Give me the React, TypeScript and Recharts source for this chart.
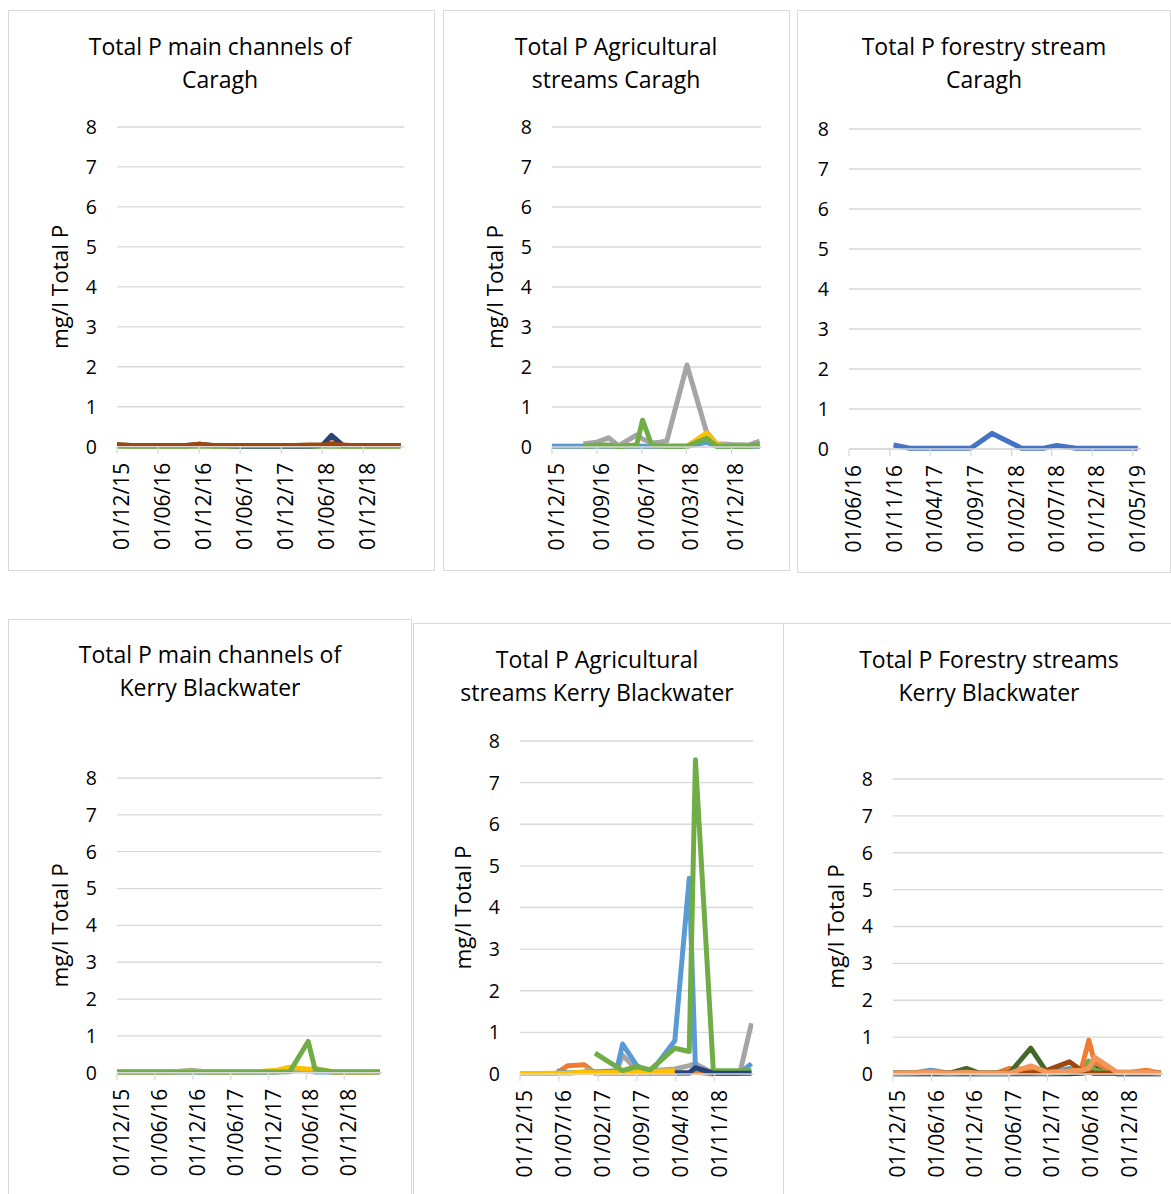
import React from "react";
import { LineChart, Line, XAxis, YAxis, CartesianGrid } from "recharts";

const FONT = '"Open Sans", "Noto Sans", sans-serif';
const GRID = "#d9d9d9";

// Excel default palette
const BLUE = "#5B9BD5";
const ORANGE = "#ED7D31";
const GRAY = "#A5A5A5";
const YELLOW = "#FFC000";
const ROYAL = "#4472C4";
const GREEN = "#70AD47";
const NAVY = "#264478";
const BROWN = "#9E480E";
const DKGREEN = "#43682B";
const LTORANGE = "#F1975A";

const yTicks = [0, 1, 2, 3, 4, 5, 6, 7, 8];

// ---- Total P main channels of Caragh
const cmTicks = ["01/12/15", "01/06/16", "01/12/16", "01/06/17", "01/12/17", "01/06/18", "01/12/18"];
const cmDates = ["01/12/15", "01/02/16", "01/04/16", "01/06/16", "01/08/16", "01/10/16", "01/12/16", "01/02/17", "01/04/17", "01/06/17", "01/08/17", "01/10/17", "01/12/17", "01/02/18", "01/04/18", "01/06/18", "12/07/18", "01/09/18", "01/10/18", "01/12/18", "01/02/19", "01/04/19", "15/05/19"];
const cmOrange = [0.03, 0.02, 0.02, 0.02, 0.02, 0.02, 0.04, 0.02, 0.02, 0.02, 0.02, 0.02, 0.02, 0.02, 0.02, 0.03, 0.1, 0.03, 0.02, 0.02, 0.02, 0.02, 0.02];
const cmGray = [0.04, 0.02, 0.02, 0.02, 0.02, 0.02, 0.07, 0.02, 0.02, 0.02, 0.02, 0.02, 0.02, 0.02, 0.03, 0.03, 0.05, 0.02, 0.02, 0.02, 0.02, 0.02, 0.02];
const cmGreen = [0.01, 0.01, 0.01, 0.01, 0.01, 0.01, 0.01, 0.01, 0.01, 0.01, 0.01, 0.01, 0.01, 0.01, 0.01, 0.01, 0.02, 0.01, 0.01, 0.01, 0.01, 0.01, 0.02];
const cmNavy = [0.04, 0.03, 0.03, 0.03, 0.03, 0.03, 0.05, 0.03, 0.03, 0.02, 0.02, 0.02, 0.02, 0.02, 0.02, 0.03, 0.28, 0.03, 0.03, 0.03, 0.03, 0.03, 0.03];
const cmBrown = [0.05, 0.03, 0.03, 0.03, 0.03, 0.03, 0.06, 0.03, 0.03, 0.03, 0.03, 0.03, 0.03, 0.03, 0.04, 0.04, 0.06, 0.04, 0.03, 0.03, 0.03, 0.03, 0.03];

// ---- Total P Agricultural streams Caragh
const caTicks = ["01/12/15", "01/09/16", "01/06/17", "01/03/18", "01/12/18"];
const caDates = ["01/12/15", "01/03/16", "10/06/16", "01/09/16", "10/11/16", "10/01/17", "01/05/17", "06/06/17", "01/08/17", "19/09/17", "01/11/17", "04/03/18", "01/07/18", "01/09/18", "01/12/18", "15/03/19", "22/05/19"];
const caGray = [null, null, 0.08, 0.12, 0.23, 0.03, 0.3, 0.2, 0.1, 0.12, 0.15, 2.05, 0.38, 0.08, 0.06, 0.05, 0.15];
const caYellow = [0.02, 0.02, 0.02, 0.02, 0.02, 0.02, 0.02, 0.02, 0.02, 0.02, 0.02, 0.02, 0.35, 0.06, 0.02, 0.02, 0.02];
const caBlue = [0.02, 0.02, 0.02, 0.02, 0.02, 0.02, 0.02, 0.02, 0.02, 0.02, 0.02, 0.02, 0.12, 0.02, 0.02, 0.02, 0.02];
const caGreen = [null, null, 0.02, 0.05, 0.05, 0.01, 0.05, 0.67, 0.05, 0.03, 0.02, 0.02, 0.22, 0.02, 0.02, 0.02, 0.06];

// ---- Total P forestry stream Caragh
const cfTicks = ["01/06/16", "01/11/16", "01/04/17", "01/09/17", "01/02/18", "01/07/18", "01/12/18", "01/05/19"];
const cfDates = ["15/11/16", "15/01/17", "01/04/17", "01/07/17", "01/09/17", "20/11/17", "10/03/18", "01/06/18", "20/07/18", "01/10/18", "01/01/19", "01/04/19", "20/05/19"];
const cfRoyal = [0.1, 0.02, 0.02, 0.02, 0.02, 0.39, 0.02, 0.02, 0.09, 0.02, 0.02, 0.02, 0.02];

// ---- Total P main channels of Kerry Blackwater
const kmTicks = ["01/12/15", "01/06/16", "01/12/16", "01/06/17", "01/12/17", "01/06/18", "01/12/18"];
const kmDates = ["01/12/15", "01/03/16", "01/06/16", "01/09/16", "20/11/16", "01/02/17", "01/05/17", "01/08/17", "01/11/17", "01/01/18", "13/03/18", "10/06/18", "13/07/18", "10/10/18", "01/01/19", "01/04/19", "22/05/19"];
const kmBlue = [0.02, 0.02, 0.02, 0.02, 0.02, 0.02, 0.02, 0.02, 0.02, 0.02, 0.05, 0.08, 0.02, 0.02, 0.02, 0.02, 0.02];
const kmGray = [0.02, 0.02, 0.02, 0.03, 0.07, 0.03, 0.02, 0.02, 0.03, 0.05, 0.1, 0.05, 0.05, 0.02, 0.02, 0.02, 0.02];
const kmYellow = [0.03, 0.03, 0.03, 0.03, 0.04, 0.03, 0.03, 0.03, 0.04, 0.06, 0.15, 0.1, 0.12, 0.02, 0.02, 0.02, 0.03];
const kmGreen = [0.02, 0.02, 0.02, 0.02, 0.02, 0.02, 0.02, 0.02, 0.02, 0.02, 0.03, 0.85, 0.1, 0.02, 0.02, 0.02, 0.03];

// ---- Total P Agricultural streams Kerry Blackwater
const kaTicks = ["01/12/15", "01/07/16", "01/02/17", "01/09/17", "01/04/18", "01/11/18"];
const kaDates = ["01/12/15", "01/03/16", "19/06/16", "19/08/16", "19/11/16", "15/01/17", "13/05/17", "15/06/17", "01/09/17", "13/11/17", "28/03/18", "15/06/18", "19/07/18", "25/10/18", "01/01/19", "19/03/19", "22/05/19"];
const kaOrange = [0.01, 0.01, 0.02, 0.2, 0.22, 0.02, 0.02, 0.02, 0.02, 0.02, 0.02, 0.02, 0.05, 0.0, null, null, null];
const kaGray = [null, null, null, null, 0.12, 0.05, 0.06, 0.45, 0.1, 0.08, 0.12, 0.2, 0.25, 0.02, 0.02, 0.02, 1.22];
const kaBlue = [null, null, 0.07, 0.03, 0.04, 0.05, 0.08, 0.72, 0.2, 0.02, 0.8, 4.7, 0.15, 0.02, 0.02, 0.02, 0.25];
const kaYellow = [0.01, 0.01, 0.02, 0.02, 0.05, 0.03, 0.04, 0.05, 0.05, 0.06, 0.08, null, null, null, null, null, null];
const kaGreen = [null, null, null, null, null, 0.5, null, 0.08, 0.18, 0.1, 0.62, 0.54, 7.55, 0.08, 0.08, 0.08, 0.08];
const kaNavy = [null, null, null, null, null, null, null, null, null, null, 0.03, 0.03, 0.15, 0.02, 0.02, 0.02, 0.02];

// ---- Total P Forestry streams Kerry Blackwater
const kfTicks = ["01/12/15", "01/06/16", "01/12/16", "01/06/17", "01/12/17", "01/06/18", "01/12/18"];
const kfDates = ["01/12/15", "01/03/16", "28/05/16", "25/08/16", "13/11/16", "15/01/17", "01/04/17", "04/06/17", "13/09/17", "28/11/17", "15/03/18", "10/05/18", "15/06/18", "13/07/18", "25/10/18", "01/01/19", "13/03/19", "22/05/19"];
const kfRoyal = [0.01, 0.01, 0.01, 0.01, 0.01, 0.01, 0.01, 0.01, 0.12, 0.01, 0.05, 0.05, 0.05, 0.2, 0.01, 0.01, 0.01, 0.01];
const kfBlue = [0.02, 0.02, 0.1, 0.02, 0.02, 0.02, 0.02, 0.02, 0.15, 0.02, 0.15, 0.05, 0.1, 0.3, 0.02, 0.02, 0.02, 0.02];
const kfNavy = [0.01, 0.01, 0.01, 0.01, 0.01, 0.01, 0.01, 0.01, 0.01, 0.01, 0.01, 0.02, 0.05, 0.25, 0.01, 0.01, 0.01, 0.01];
const kfGreen = [0.02, 0.02, 0.02, 0.02, 0.02, 0.02, 0.02, 0.02, 0.02, 0.02, 0.05, 0.15, 0.35, 0.1, 0.02, 0.02, 0.02, 0.02];
const kfOrange = [0.02, 0.02, 0.05, 0.02, 0.02, 0.02, 0.02, 0.15, 0.12, 0.05, 0.08, 0.12, 0.92, 0.3, 0.05, 0.05, 0.1, 0.02];
const kfDkGreen = [0.02, 0.02, 0.02, 0.02, 0.15, 0.02, 0.02, 0.02, 0.7, 0.05, 0.08, 0.05, 0.05, 0.02, 0.02, 0.02, 0.02, 0.02];
const kfBrown = [0.02, 0.02, 0.02, 0.02, 0.02, 0.02, 0.02, 0.02, 0.02, 0.1, 0.33, 0.1, 0.05, 0.02, 0.02, 0.02, 0.02, 0.02];
const kfLtOrange = [0.02, 0.03, 0.05, 0.02, 0.05, 0.02, 0.02, 0.02, 0.22, 0.05, 0.08, 0.1, 0.15, 0.45, 0.05, 0.05, 0.05, 0.02];

function toTime(d: string) {
  const [dd, mm, yy] = d.split("/").map(Number);
  return Date.UTC(2000 + yy, mm - 1, dd);
}

function fmtDate(t: number) {
  const d = new Date(t);
  const p = (n: number) => String(n).padStart(2, "0");
  return `${p(d.getUTCDate())}/${p(d.getUTCMonth() + 1)}/${p(d.getUTCFullYear() % 100)}`;
}

function buildRows(dates: string[], series: { values: (number | null)[] }[]) {
  return dates.map((d, i) => {
    const row: any = { t: toTime(d) };
    series.forEach((s, k) => (row["s" + k] = s.values[i]));
    return row;
  });
}

function DateTick(props: any) {
  const { x, y, payload } = props;
  const tx = x + 4;
  const ty = y + 9;
  return (
    <text
      x={tx}
      y={ty}
      transform={`rotate(-90, ${tx}, ${ty})`}
      textAnchor="end"
      dominantBaseline="central"
      fontSize={21}
      fontFamily={FONT}
      fill="#000"
    >
      {fmtDate(payload.value)}
    </text>
  );
}

const YW = 112;
const MT = 22;
const MR = 24;
const XH = 130;

function Panel({ box, title, titleX, titleBase, plot, start, end, ticks, dates, series, yLabel }: any) {
  const rows = buildRows(dates, series);
  const w = plot.right - plot.left + YW + MR;
  const h = MT + (plot.bottom - plot.top) + XH;
  return (
    <>
      <div
        style={{
          position: "absolute",
          left: box.left,
          top: box.top,
          width: box.width,
          height: box.height,
          border: `1.5px solid ${GRID}`,
          boxSizing: "border-box",
        }}
      />
      <div
        style={{
          position: "absolute",
          left: titleX - 200,
          top: titleBase - 25.4,
          width: 400,
          textAlign: "center",
          fontFamily: FONT,
          fontSize: 23,
          lineHeight: "33px",
          color: "#000",
        }}
      >
        {title.map((t: string) => (
          <div key={t}>{t}</div>
        ))}
      </div>
      <div style={{ position: "absolute", left: plot.left - YW, top: plot.top - MT }}>
        <LineChart width={w} height={h} data={rows} margin={{ top: MT, right: MR, left: 0, bottom: 0 }}>
          <CartesianGrid vertical={false} stroke={GRID} strokeWidth={1.3} />
          <XAxis
            dataKey="t"
            type="number"
            domain={[toTime(start), toTime(end)]}
            ticks={ticks.map(toTime)}
            interval={0}
            height={XH}
            axisLine={{ stroke: GRID, strokeWidth: 1.5 }}
            tickLine={{ stroke: GRID, strokeWidth: 1.3 }}
            tickSize={7}
            tickMargin={0}
            tick={<DateTick />}
            allowDataOverflow
          />
          <YAxis
            type="number"
            domain={[0, 8]}
            ticks={yTicks}
            interval={0}
            width={YW}
            axisLine={false}
            tickLine={false}
            tickSize={0}
            tickMargin={20}
            tick={{ fontSize: 19.5, fill: "#000", fontFamily: FONT }}
            label={
              yLabel
                ? {
                    value: "mg/l Total P",
                    angle: -90,
                    position: "center",
                    dx: -1,
                    style: { fontSize: 22.5, fill: "#000", fontFamily: FONT },
                  }
                : undefined
            }
          />
          {series.map((s: any, k: number) => (
            <Line
              key={k}
              type="linear"
              dataKey={"s" + k}
              stroke={s.color}
              strokeWidth={5}
              strokeLinejoin="round"
              dot={false}
              activeDot={false}
              connectNulls
              isAnimationActive={false}
            />
          ))}
        </LineChart>
      </div>
    </>
  );
}

export default function App() {
  return (
    <div
      style={{
        position: "absolute",
        left: 0,
        top: 0,
        width: 1171,
        height: 1194,
        overflow: "hidden",
        background: "#fff",
      }}
    >
      <Panel
        box={{ left: 7.5, top: 9.5, width: 427, height: 561 }}
        title={["Total P main channels of", "Caragh"]}
        titleX={220}
        titleBase={55}
        plot={{ left: 116.7, right: 404, top: 127, bottom: 446.7 }}
        start="01/12/15"
        end="01/06/19"
        ticks={cmTicks}
        dates={cmDates}
        yLabel
        series={[
          { color: ORANGE, values: cmOrange },
          { color: GRAY, values: cmGray },
          { color: GREEN, values: cmGreen },
          { color: NAVY, values: cmNavy },
          { color: BROWN, values: cmBrown },
        ]}
      />
      <Panel
        box={{ left: 443, top: 9.5, width: 346.5, height: 561.5 }}
        title={["Total P Agricultural", "streams Caragh"]}
        titleX={616}
        titleBase={55}
        plot={{ left: 551.7, right: 761, top: 126.7, bottom: 446.7 }}
        start="01/12/15"
        end="01/06/19"
        ticks={caTicks}
        dates={caDates}
        yLabel
        series={[
          { color: GRAY, values: caGray },
          { color: YELLOW, values: caYellow },
          { color: BLUE, values: caBlue },
          { color: GREEN, values: caGreen },
        ]}
      />
      <Panel
        box={{ left: 796.5, top: 9.5, width: 374, height: 563.5 }}
        title={["Total P forestry stream", "Caragh"]}
        titleX={984}
        titleBase={55}
        plot={{ left: 849, right: 1141, top: 129, bottom: 449 }}
        start="01/06/16"
        end="01/06/19"
        ticks={cfTicks}
        dates={cfDates}
        yLabel={false}
        series={[{ color: ROYAL, values: cfRoyal }]}
      />
      <Panel
        box={{ left: 7.5, top: 619, width: 404, height: 600 }}
        title={["Total P main channels of", "Kerry Blackwater"]}
        titleX={210}
        titleBase={663.5}
        plot={{ left: 116.7, right: 381.7, top: 777.5, bottom: 1072.3 }}
        start="01/12/15"
        end="01/06/19"
        ticks={kmTicks}
        dates={kmDates}
        yLabel
        series={[
          { color: BLUE, values: kmBlue },
          { color: GRAY, values: kmGray },
          { color: YELLOW, values: kmYellow },
          { color: GREEN, values: kmGreen },
        ]}
      />
      <Panel
        box={{ left: 412.5, top: 622.5, width: 371, height: 600 }}
        title={["Total P Agricultural", "streams Kerry Blackwater"]}
        titleX={597}
        titleBase={668}
        plot={{ left: 520, right: 753.3, top: 741, bottom: 1074 }}
        start="01/12/15"
        end="01/06/19"
        ticks={kaTicks}
        dates={kaDates}
        yLabel
        series={[
          { color: ORANGE, values: kaOrange },
          { color: GRAY, values: kaGray },
          { color: BLUE, values: kaBlue },
          { color: YELLOW, values: kaYellow },
          { color: GREEN, values: kaGreen },
          { color: NAVY, values: kaNavy },
        ]}
      />
      <Panel
        box={{ left: 783, top: 622.5, width: 420, height: 600 }}
        title={["Total P Forestry streams", "Kerry Blackwater"]}
        titleX={989}
        titleBase={668}
        plot={{ left: 893.3, right: 1163.3, top: 779, bottom: 1074 }}
        start="01/12/15"
        end="01/06/19"
        ticks={kfTicks}
        dates={kfDates}
        yLabel
        series={[
          { color: ROYAL, values: kfRoyal },
          { color: BLUE, values: kfBlue },
          { color: NAVY, values: kfNavy },
          { color: GREEN, values: kfGreen },
          { color: ORANGE, values: kfOrange },
          { color: DKGREEN, values: kfDkGreen },
          { color: BROWN, values: kfBrown },
          { color: LTORANGE, values: kfLtOrange },
        ]}
      />
    </div>
  );
}
